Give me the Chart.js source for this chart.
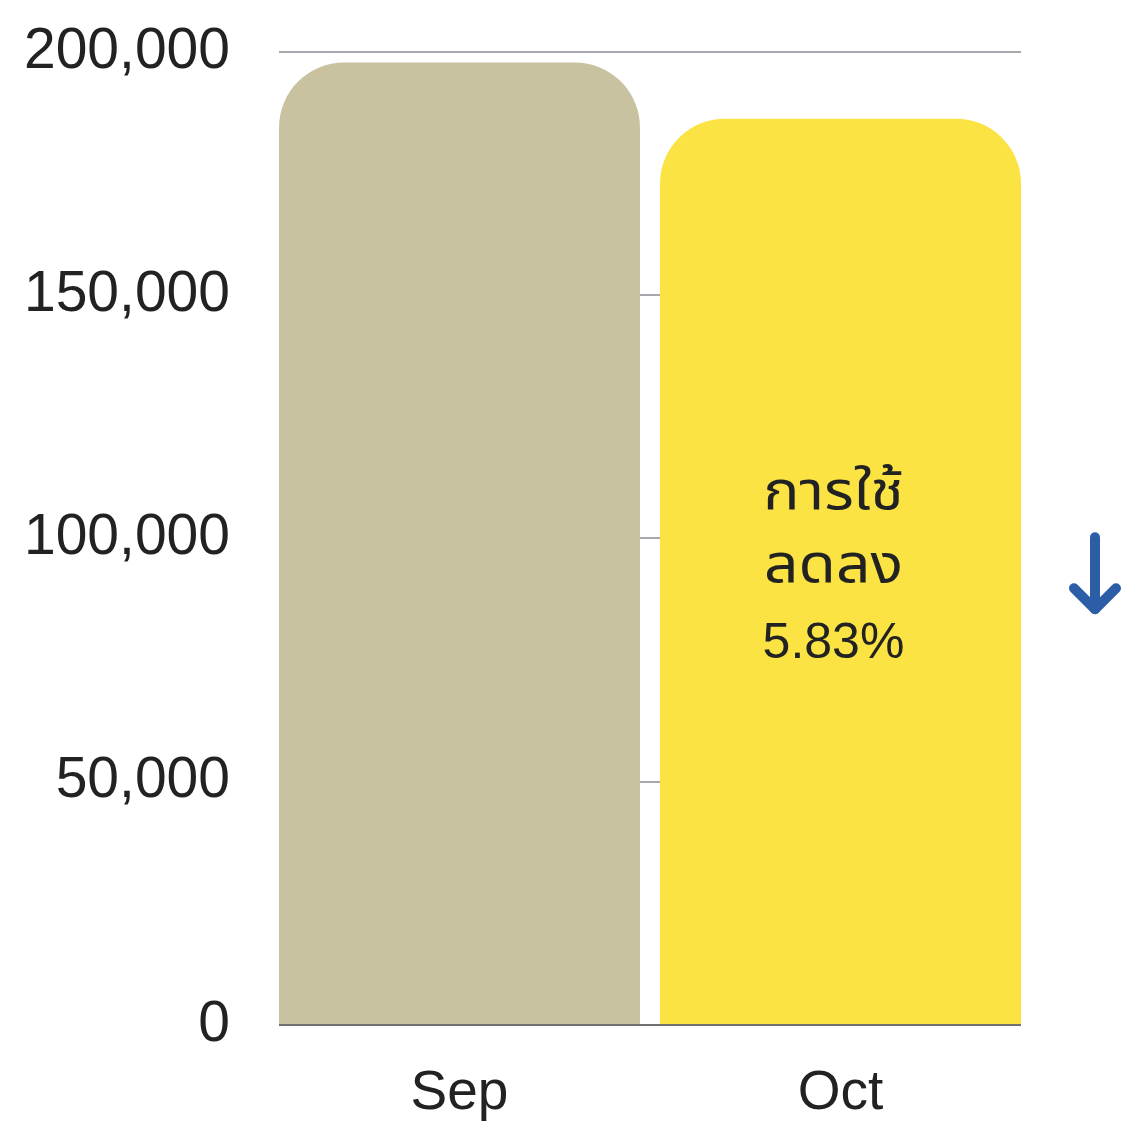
<!DOCTYPE html>
<html>
<head>
<meta charset="utf-8">
<script src="https://cdn.jsdelivr.net/npm/chart.js@4"></script>
<style>
  html, body { margin: 0; padding: 0; background: #fff; }
  #wrap { width: 1122px; height: 1121px; }
</style>
</head>
<body>
<div id="wrap"><canvas id="chart" width="1122" height="1121"></canvas></div>
<script>
const months = ["Sep", "Oct"];
const usage = [197800, 186270];
const barColors = ["#c9c2a1", "#fae343"];
const noteLines = ["การใช้", "ลดลง", "5.83%"];

// text inside the Oct bar and the arrow to the right of it
const notePlugin = {
  id: "note",
  afterDatasetsDraw(chart) {
    const ctx = chart.ctx;
    const bar = chart.getDatasetMeta(0).data[1];
    const midY = (bar.y + bar.base) / 2;
    ctx.save();
    ctx.fillStyle = "#222";
    ctx.textAlign = "center";
    ctx.textBaseline = "middle";
    noteLines.forEach((t, i) => {
      const y = midY + (i - 1) * 73;
      ctx.save();
      ctx.translate(bar.x - 7, y);
      if (i < 2) {
        ctx.font = "54px 'Noto Sans Thai', 'Noto Sans', Arial, sans-serif";
        ctx.scale(1.12, 1);
      } else {
        ctx.font = "50px 'Liberation Sans', Arial, sans-serif";
      }
      ctx.fillText(t, 0, 0);
      ctx.restore();
    });

    const ax = chart.chartArea.right + 74;
    ctx.strokeStyle = "#2c5ea7";
    ctx.lineWidth = 10;
    ctx.lineCap = "round";
    ctx.lineJoin = "round";
    ctx.beginPath();
    ctx.moveTo(ax, midY - 34);
    ctx.lineTo(ax, midY + 38);
    ctx.stroke();
    ctx.beginPath();
    ctx.moveTo(ax - 21, midY + 17);
    ctx.lineTo(ax, midY + 38);
    ctx.lineTo(ax + 21, midY + 17);
    ctx.stroke();
    ctx.restore();
  }
};

new Chart(document.getElementById("chart"), {
  type: "bar",
  data: {
    datasets: [{
      data: usage.map((v, i) => ({ x: i, y: v })),
      backgroundColor: barColors,
      borderRadius: { topLeft: 65, topRight: 65, bottomLeft: 0, bottomRight: 0 },
      borderSkipped: "bottom",
      categoryPercentage: 1,
      barPercentage: 0.9475
    }]
  },
  options: {
    responsive: false,
    animation: false,
    layout: { autoPadding: false, padding: { top: 48, right: 101, left: 0, bottom: 0 } },
    plugins: { legend: { display: false }, tooltip: { enabled: false } },
    scales: {
      x: {
        type: "linear",
        min: -0.4738,
        max: 1.4738,
        offset: false,
        grid: { display: false },
        border: { display: false },
        afterBuildTicks(scale) { scale.ticks = months.map((m, i) => ({ value: i })); },
        ticks: {
          color: "#222",
          padding: 28,
          font: { size: 55, family: "Liberation Sans, Arial" },
          callback: v => months[v]
        },
        afterFit(scale) { scale.height = 96; }
      },
      y: {
        min: 0,
        max: 200000,
        border: { display: false },
        grid: {
          drawTicks: false,
          lineWidth: 2,
          color: ctx => ctx.tick && ctx.tick.value === 0 ? "#6f7175" : "#a6a9ad"
        },
        ticks: {
          stepSize: 50000,
          color: "#222",
          padding: 49,
          font: { size: 57, family: "Liberation Sans, Arial", lineHeight: 0.1 },
          callback: v => v.toLocaleString("en-US")
        },
        afterFit(scale) { scale.width = 279; }
      }
    }
  },
  plugins: [notePlugin]
});
</script>
</body>
</html>
